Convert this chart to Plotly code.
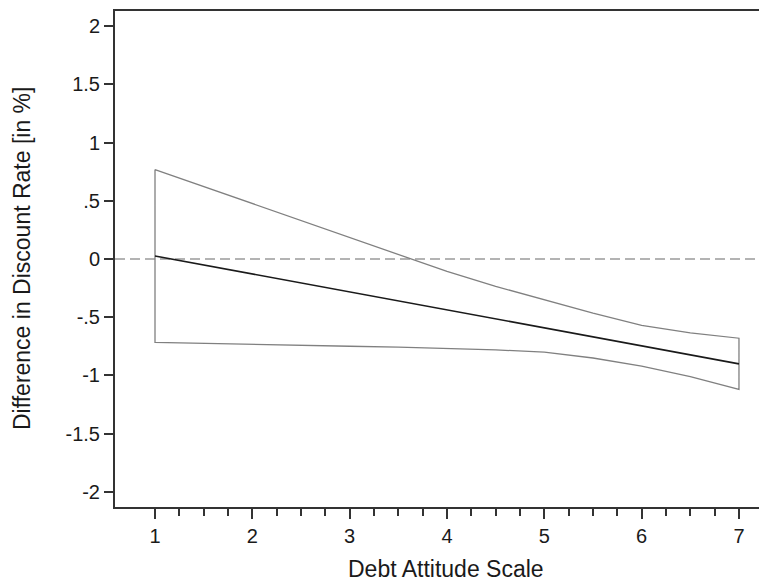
import plotly.graph_objects as go

# Data
x_vals = [1, 1.5, 2, 2.5, 3, 3.5, 4, 4.5, 5, 5.5, 6, 6.5, 7]
effect = [0.026, -0.051, -0.128, -0.205, -0.283, -0.360, -0.437, -0.514, -0.591, -0.668, -0.746, -0.823, -0.900]
upper_ci = [0.768, 0.623, 0.477, 0.330, 0.183, 0.037, -0.107, -0.235, -0.350, -0.465, -0.570, -0.635, -0.680]
lower_ci = [-0.716, -0.725, -0.733, -0.740, -0.749, -0.757, -0.767, -0.780, -0.800, -0.850, -0.920, -1.010, -1.120]

y_tickvals = [2, 1.5, 1, 0.5, 0, -0.5, -1, -1.5, -2]
y_ticktext = ["2", "1.5", "1", ".5", "0", "-.5", "-1", "-1.5", "-2"]
x_tickvals = [1, 2, 3, 4, 5, 6, 7]
x_minor_vals = [v + q for v in range(1, 7) for q in (0.25, 0.5, 0.75)]

x_title = "Debt Attitude Scale"
y_title = "Difference in Discount Rate [in %]"

x_range = [0.589, 7.288]
y_range = [-2.129, 2.129]

font_family = "Liberation Sans, Arial, sans-serif"
axis_color = "#333333"
text_color = "#1a1a1a"

fig = go.Figure()

# Confidence band outline as a closed polygon
band_x = x_vals + x_vals[::-1] + [x_vals[0]]
band_y = upper_ci + lower_ci[::-1] + [upper_ci[0]]
fig.add_trace(go.Scatter(x=band_x, y=band_y, mode="lines",
                         line=dict(color="#808080", width=1.3),
                         hoverinfo="skip", showlegend=False))

fig.add_trace(go.Scatter(x=x_vals, y=effect, mode="lines",
                         line=dict(color="#1a1a1a", width=1.6),
                         showlegend=False))

# invisible trace so the minor-tick axis is drawn
fig.add_trace(go.Scatter(x=[x_range[0]], y=[0], xaxis="x2", mode="markers",
                         marker=dict(opacity=0), hoverinfo="skip", showlegend=False))

# zero reference line
fig.add_shape(type="line", xref="paper", x0=0, x1=1, yref="y", y0=0, y1=0,
              line=dict(color="#9a9a9a", width=1.5, dash="10px,5px"), layer="below")

# axis titles
fig.add_annotation(text=x_title, xref="paper", yref="paper", x=0.5, y=0,
                   xanchor="center", yanchor="middle", xshift=5, yshift=-62,
                   showarrow=False, font=dict(size=23, color=text_color))
fig.add_annotation(text=y_title, xref="paper", yref="paper", x=0, y=0.5,
                   xanchor="center", yanchor="middle", xshift=-93, textangle=-90,
                   showarrow=False, font=dict(size=23, color=text_color))

fig.update_layout(
    width=759, height=575,
    margin=dict(l=107, r=0, t=3, b=76, autoexpand=False),
    paper_bgcolor="white", plot_bgcolor="white",
    font=dict(family=font_family, size=20, color=text_color),
    xaxis=dict(range=x_range, tickvals=x_tickvals, ticks="outside", ticklen=10,
               tickwidth=1.5, tickcolor=axis_color, showline=True, linecolor=axis_color,
               linewidth=2, mirror=True, showgrid=False, zeroline=False,
               tickfont=dict(size=20), automargin=False),
    xaxis2=dict(range=x_range, overlaying="x", anchor="y", side="bottom",
                tickvals=x_minor_vals, ticks="outside", ticklen=8, tickwidth=1.5,
                tickcolor=axis_color, showticklabels=False, showline=False,
                showgrid=False, zeroline=False, automargin=False),
    yaxis=dict(range=y_range, tickvals=y_tickvals, ticktext=y_ticktext,
               ticks="outside", ticklen=9, tickwidth=1.5, tickcolor=axis_color,
               showline=True, linecolor=axis_color, linewidth=2, mirror=False,
               showgrid=False, zeroline=False, tickangle=0, tickfont=dict(size=20),
               automargin=False),
)

fig.write_html("out.html")
